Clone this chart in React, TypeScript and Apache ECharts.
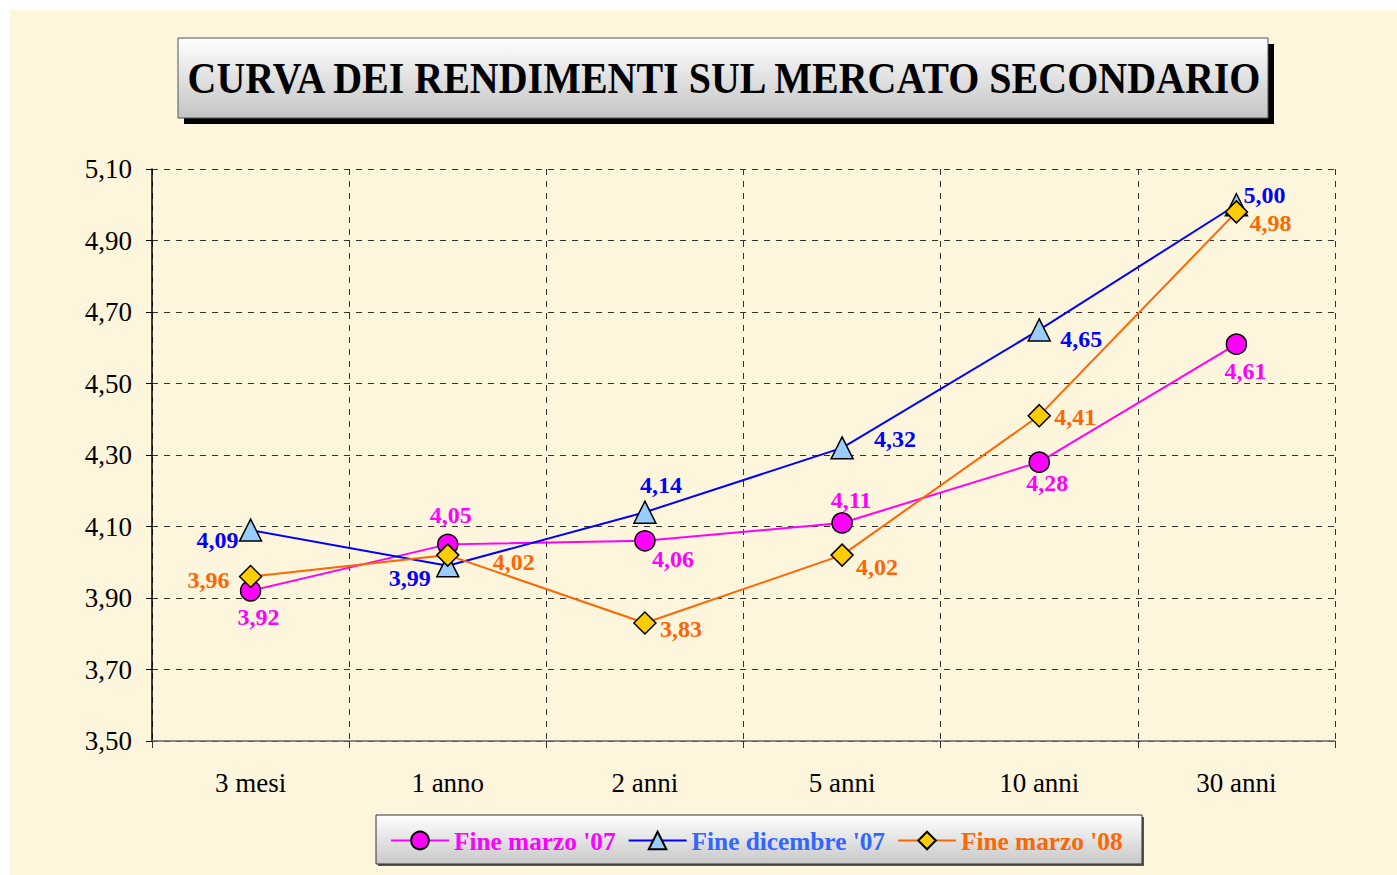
import React, { useEffect, useRef } from "react";
import * as echarts from "echarts";

const categories = ["3 mesi", "1 anno", "2 anni", "5 anni", "10 anni", "30 anni"];
const seriesNames = ["Fine marzo '07", "Fine dicembre '07", "Fine marzo '08"];
const marzo07 = [3.92, 4.05, 4.06, 4.11, 4.28, 4.61];
const dicembre07 = [4.09, 3.99, 4.14, 4.32, 4.65, 5.0];
const marzo08 = [3.96, 4.02, 3.83, 4.02, 4.41, 4.98];
const yTicks = { min: 3.5, max: 5.1, interval: 0.2 };
const titleText = "CURVA DEI RENDIMENTI SUL MERCATO SECONDARIO";

// label offsets (style only)
const offM = [[8, 26], [3, -29], [28, 18], [9, -23], [8, 21], [9, 27]];
const offB = [[-33, 10], [-38, 12], [16, -27], [53, -9], [42, 9], [28, -10]];
const offO = [[-42, 3], [66, 7], [36, 6], [35, 12], [36, 1], [34, 11]];

const SERIF = "'Liberation Serif', 'Times New Roman', serif";
const fmt = (v: number) => v.toFixed(2).replace(".", ",");

function mkSeries(name: string, values: number[], offs: number[][], lineColor: string, fill: string, labelColor: string, symbol: string, size: number) {
  return {
    name,
    type: "line",
    data: values.map((v, i) => ({ value: v, label: { offset: offs[i] } })),
    symbol,
    symbolSize: size,
    lineStyle: { color: lineColor, width: 2 },
    itemStyle: { color: fill, borderColor: "#000", borderWidth: 1.5 },
    label: {
      show: true,
      position: "inside",
      align: "center",
      verticalAlign: "middle",
      formatter: (p: any) => fmt(p.value),
      color: labelColor,
      fontFamily: SERIF,
      fontWeight: "bold",
      fontSize: 24,
    },
    emphasis: { disabled: true },
  };
}

export default function App() {
  const ref = useRef<HTMLDivElement>(null);
  useEffect(() => {
    const chart = echarts.init(ref.current!, null, { renderer: "svg" });
    chart.setOption({
      animation: false,
      backgroundColor: "#ffffff",
      graphic: [
        { type: "rect", z: -10, silent: true, shape: { x: 10, y: 10, width: 1387, height: 865 }, style: { fill: "#FEF5DD" } },
        { type: "rect", z: 10, shape: { x: 184, y: 44, width: 1090, height: 80 }, style: { fill: "#000" } },
        {
          type: "rect", z: 11, shape: { x: 178, y: 38, width: 1090, height: 80 },
          style: {
            fill: new echarts.graphic.LinearGradient(0, 0, 0, 1, [
              { offset: 0, color: "#ffffff" },
              { offset: 1, color: "#c4c4c4" },
            ]),
            stroke: "#555", lineWidth: 1,
          },
        },
        {
          type: "text", z: 12, x: 724, y: 78, scaleY: 1.12,
          style: { text: titleText, fontFamily: SERIF, fontWeight: "bold", fontSize: 40, fill: "#000", align: "center", verticalAlign: "middle" },
        },
        { type: "rect", z: 0, shape: { x: 378, y: 817, width: 766, height: 49 }, style: { fill: "#555" } },
        {
          type: "rect", z: 1, shape: { x: 376, y: 815, width: 766, height: 49 },
          style: {
            fill: new echarts.graphic.LinearGradient(0, 0, 0, 1, [
              { offset: 0, color: "#ffffff" },
              { offset: 1, color: "#c8c8c8" },
            ]),
            stroke: "#333", lineWidth: 1,
          },
        },
      ],
      legend: {
        left: 385,
        top: 823,
        itemWidth: 58,
        itemHeight: 22,
        itemGap: 12,
        z: 5,
        data: [
          { name: seriesNames[0], textStyle: { color: "#FF00FF" } },
          { name: seriesNames[1], textStyle: { color: "#3366FF" } },
          { name: seriesNames[2], textStyle: { color: "#FF6600" } },
        ],
        textStyle: { fontFamily: SERIF, fontWeight: "bold", fontSize: 25.3 },
      },
      grid: { left: 152, right: 62, top: 169, bottom: 134 },
      xAxis: {
        type: "category",
        data: categories,
        boundaryGap: true,
        axisLine: { lineStyle: { color: "#666", width: 1.5 } },
        axisTick: { show: true, length: 7, lineStyle: { color: "#333" } },
        axisLabel: { fontFamily: SERIF, fontSize: 27, color: "#000", margin: 28 },
        splitLine: { show: true, lineStyle: { color: "#333", type: [6, 6], width: 1 } },
      },
      yAxis: {
        type: "value",
        min: yTicks.min,
        max: yTicks.max,
        interval: yTicks.interval,
        axisLine: { show: true, lineStyle: { color: "#000", width: 1.5 } },
        axisTick: { show: true, length: 6, lineStyle: { color: "#000" } },
        axisLabel: { fontFamily: SERIF, fontSize: 27, color: "#000", margin: 20, formatter: (v: number) => fmt(v) },
        splitLine: { show: true, lineStyle: { color: "#333", type: [6, 6], width: 1 } },
      },
      series: [
        mkSeries(seriesNames[0], marzo07, offM, "#FF00FF", "#FF00FF", "#FF00FF", "circle", 20),
        mkSeries(seriesNames[1], dicembre07, offB, "#0000FF", "#99CCFF", "#0000FF", "triangle", 22),
        mkSeries(seriesNames[2], marzo08, offO, "#FF6600", "#FFCC00", "#FF6600", "diamond", 22),
      ],
    });
    return () => chart.dispose();
  }, []);
  return <div ref={ref} style={{ position: "fixed", left: 0, top: 0, width: 1397, height: 875 }} />;
}
